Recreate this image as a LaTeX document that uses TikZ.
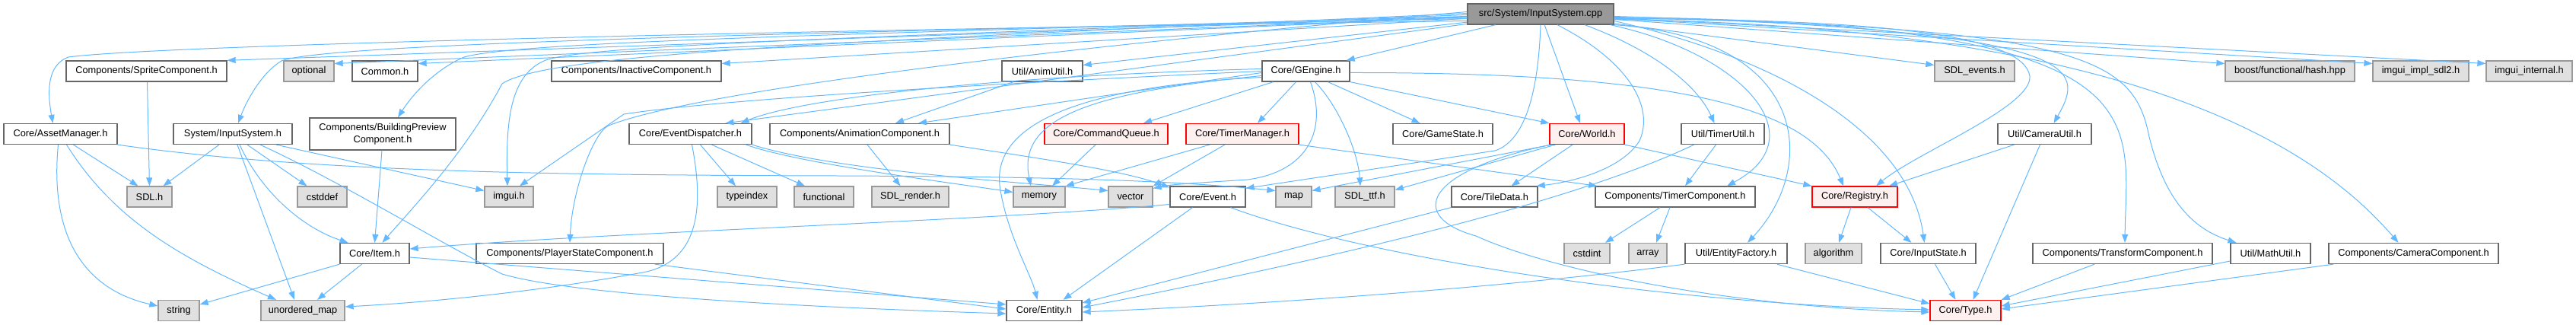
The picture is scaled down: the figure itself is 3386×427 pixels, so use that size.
\documentclass[tikz,border=0pt]{standalone}
\usepackage{fontspec}
\setmainfont{Liberation Sans}
\usetikzlibrary{arrows.meta}
\definecolor{edgec}{HTML}{63B8FF}
\definecolor{nborder}{HTML}{666666}
\definecolor{eborder}{HTML}{999999}
\definecolor{efill}{HTML}{E0E0E0}
\definecolor{rborder}{HTML}{FF0000}
\definecolor{rfill}{HTML}{FFF0F0}
\definecolor{sfill}{HTML}{999999}
\begin{document}
\begin{tikzpicture}[x=1pt,y=-1pt,
  font=\fontsize{12.8}{16}\selectfont,
  basebox/.style={line width=1.3pt, inner sep=0pt, minimum height=27pt, anchor=center, align=center},
  nbox/.style={basebox, draw=nborder, fill=white},
  ebox/.style={basebox, draw=eborder, fill=efill},
  rbox/.style={basebox, draw=rborder, fill=rfill},
  sbox/.style={basebox, draw=nborder, fill=sfill},
  dep/.style={draw=edgec, line width=1pt, -{Triangle[length=11pt,width=8pt]}}]
\useasboundingbox (0,0) rectangle (3386,427);
% row 0
\node[sbox, minimum width=192pt] (src) at (2025,18.5) {src/System/InputSystem.cpp};
% row 1
\node[nbox, minimum width=211pt] (sprite) at (192.5,93.5) {Components/SpriteComponent.h};
\node[ebox, minimum width=66pt] (optional) at (406,93.5) {optional};
\node[nbox, minimum width=86pt] (common) at (506,93.5) {Common.h};
\node[nbox, minimum width=223pt] (inactive) at (836.5,93.5) {Components/InactiveComponent.h};
\node[nbox, minimum width=106pt] (animutil) at (1370,93.5) {Util/AnimUtil.h};
\node[nbox, minimum width=115pt] (gengine) at (1716.5,93.5) {Core/GEngine.h};
\node[ebox, minimum width=105pt] (sdlevents) at (2595.5,93.5) {SDL\_events.h};
\node[ebox, minimum width=170pt] (boost) at (3010,93.5) {boost/functional/hash.hpp};
\node[ebox, minimum width=126pt] (imguiimpl) at (3182,93.5) {imgui\_impl\_sdl2.h};
\node[ebox, minimum width=113pt] (imguiint) at (3324.5,93.5) {imgui\_internal.h};
% row 2
\node[nbox, minimum width=149pt] (asset) at (79.5,176) {Core/AssetManager.h};
\node[nbox, minimum width=156pt] (sysinh) at (306,176) {System/InputSystem.h};
\node[nbox, minimum width=192pt, minimum height=42pt] (building) at (503,176) {Components/BuildingPreview\\Component.h};
\node[nbox, minimum width=161pt] (evdisp) at (907.5,176) {Core/EventDispatcher.h};
\node[nbox, minimum width=236pt] (animcomp) at (1130,176) {Components/AnimationComponent.h};
\node[rbox, minimum width=162pt] (cmdq) at (1454,176) {Core/CommandQueue.h};
\node[rbox, minimum width=148pt] (timerman) at (1633,176) {Core/TimerManager.h};
\node[nbox, minimum width=131pt] (gamestate) at (1896.5,176) {Core/GameState.h};
\node[rbox, minimum width=98pt] (world) at (2086,176) {Core/World.h};
\node[nbox, minimum width=109pt] (timerutil) at (2264.5,176) {Util/TimerUtil.h};
\node[nbox, minimum width=123pt] (camutil) at (2687.5,176) {Util/CameraUtil.h};
% row 3
\node[ebox, minimum width=59pt] (sdl) at (196.5,258.5) {SDL.h};
\node[ebox, minimum width=65pt] (cstddef) at (423.5,258.5) {cstddef};
\node[ebox, minimum width=64pt] (imgui) at (669,258.5) {imgui.h};
\node[ebox, minimum width=78pt] (typeindex) at (982,258.5) {typeindex};
\node[ebox, minimum width=78pt] (functional) at (1083,258.5) {functional};
\node[ebox, minimum width=101pt] (sdlrender) at (1196.5,258.5) {SDL\_render.h};
\node[ebox, minimum width=68pt] (memory) at (1366,258.5) {memory};
\node[ebox, minimum width=58pt] (vector) at (1486,258.5) {vector};
\node[nbox, minimum width=99pt] (event) at (1587.5,258.5) {Core/Event.h};
\node[ebox, minimum width=47pt] (map) at (1700.5,258.5) {map};
\node[ebox, minimum width=78pt] (sdlttf) at (1794,258.5) {SDL\_ttf.h};
\node[nbox, minimum width=113pt] (tiledata) at (1964.5,258.5) {Core/TileData.h};
\node[nbox, minimum width=210pt] (timercomp) at (2202,258.5) {Components/TimerComponent.h};
\node[rbox, minimum width=112pt] (registry) at (2438,258.5) {Core/Registry.h};
% row 4
\node[nbox, minimum width=91pt] (item) at (492.5,333) {Core/Item.h};
\node[nbox, minimum width=246pt] (playerstate) at (749,333) {Components/PlayerStateComponent.h};
\node[ebox, minimum width=60pt] (cstdint) at (2086,333) {cstdint};
\node[ebox, minimum width=50pt] (array) at (2166,333) {array};
\node[nbox, minimum width=134pt] (entfactory) at (2282,333) {Util/EntityFactory.h};
\node[ebox, minimum width=74pt] (algorithm) at (2410,333) {algorithm};
\node[nbox, minimum width=125pt] (inputstate) at (2534.5,333) {Core/InputState.h};
\node[nbox, minimum width=236pt] (transform) at (2790,333) {Components/TransformComponent.h};
\node[nbox, minimum width=105pt] (mathutil) at (2984.5,333) {Util/MathUtil.h};
\node[nbox, minimum width=223pt] (camcomp) at (3172.5,333) {Components/CameraComponent.h};
% row 5
\node[ebox, minimum width=54pt] (string) at (235,408) {string};
\node[ebox, minimum width=110pt] (umap) at (398,408) {unordered\_map};
\node[nbox, minimum width=99pt] (entity) at (1372.5,408) {Core/Entity.h};
\node[rbox, minimum width=93pt] (type) at (2583.5,408) {Core/Type.h};

% ---- edges from the source file
\draw[dep] ([yshift=-9pt]src.west) .. controls (1000,40) and (200,60) .. (90,75) .. controls (62,85) and (62,120) .. ([xshift=-10pt]asset.north);
\draw[dep] (src) -- (sprite.north east);
\draw[dep] (src) -- ([yshift=10pt]optional.east);
\draw[dep] (src) -- ([yshift=10pt]common.east);
\draw[dep] ([yshift=-6pt]src.west) .. controls (900,45) and (420,60) .. (370,80) .. controls (345,95) and (325,130) .. ([xshift=7pt]sysinh.north);
\draw[dep] ([yshift=-3pt]src.west) .. controls (1100,45) and (680,55) .. (610,75) .. controls (575,90) and (545,120) .. ([xshift=20pt]building.north);
\draw[dep] ([yshift=-1pt]src.west) .. controls (1100,50) and (760,60) .. (715,80) .. controls (670,100) and (665,160) .. ([xshift=-2pt]imgui.north);
\draw[dep] ([yshift=1pt]src.west) .. controls (1100,55) and (720,70) .. (660,110) .. controls (612,200) and (545,270) .. ([xshift=10pt]item.north);
\draw[dep] (src) -- ([yshift=10pt]inactive.east);
\draw[dep] (src) -- ([xshift=-35pt]evdisp.north east);
\draw[dep] ([yshift=3pt]src.west) .. controls (1300,70) and (900,125) .. (800,165) .. controls (780,174) and (752,250) .. (playerstate.north);
\draw[dep] (src) -- ([yshift=8pt]animutil.east);
\draw[dep] (src) -- ([xshift=-5pt]gengine.north east);
\draw[dep] (src) -- ([xshift=-9pt]world.north);
\draw[dep] ([xshift=22pt]src.south) .. controls (2140,80) and (2175,140) .. (2155,185) .. controls (2130,225) and (2060,240) .. ([xshift=-2pt]tiledata.north east);
\draw[dep] (src.south) .. controls (2022,120) and (2005,185) .. (1965,198) -- ([yshift=-3pt]event.north east);
\draw[dep] ([xshift=58pt]src.south) .. controls (2170,65) and (2230,110) .. ([xshift=-11pt]timerutil.north);
\draw[dep] ([xshift=-5pt]src.south east) .. controls (2290,70) and (2390,180) .. ([xshift=68pt]timercomp.north);
\draw[dep] (src.south east) .. controls (2380,50) and (2390,220) .. ([xshift=15pt]entfactory.north);
\draw[dep] (src) -- ([yshift=8pt]sdlevents.west);
\draw[dep] ([yshift=-6pt]src.east) .. controls (2500,25) and (2660,50) .. (2668,100) .. controls (2672,140) and (2520,200) .. ([xshift=28pt]registry.north);
\draw[dep] ([yshift=-9pt]src.east) .. controls (2350,80) and (2510,180) .. ([xshift=-5pt]inputstate.north);
\draw[dep] ([yshift=-3pt]src.east) .. controls (2750,40) and (2740,90) .. ([xshift=12pt]camutil.north);
\draw[dep] ([yshift=-4pt]src.east) .. controls (2850,30) and (2795,150) .. ([xshift=3pt]transform.north);
\draw[dep] ([yshift=-5pt]src.east) .. controls (2750,35) and (2805,80) .. (2825,180) .. controls (2845,260) and (2880,300) .. ([xshift=8pt]mathutil.north west);
\draw[dep] ([yshift=-7pt]src.east) .. controls (2820,35) and (3050,200) .. ([xshift=-20pt]camcomp.north);
\draw[dep] (src) -- ([yshift=10pt]boost.west);
\draw[dep] (src) -- ([yshift=10pt]imguiimpl.west);
\draw[dep] (src) -- ([yshift=10pt]imguiint.west);

% ---- AssetManager
\draw[dep] ([xshift=17pt]asset.south) -- ([xshift=-15pt]sdl.north);
\draw[dep] ([xshift=-3pt]asset.south) .. controls (65,310) and (110,380) .. ([yshift=6pt]string.west);
\draw[dep] ([xshift=8pt]asset.south) .. controls (150,290) and (240,340) .. ([xshift=-35pt]umap.north);
\draw[dep] (asset.south east) .. controls (400,225) and (700,230) .. (1100,231) .. controls (1400,232) and (1550,238) .. ([yshift=8pt]map.west);
% ---- SpriteComponent
\draw[dep] ([xshift=1pt]sprite.south) -- (sdl.north);
% ---- System/InputSystem.h
\draw[dep] ([xshift=-18pt]sysinh.south) -- ([xshift=18pt]sdl.north);
\draw[dep] ([xshift=19pt]sysinh.south) -- ([xshift=-20pt]cstddef.north);
\draw[dep] ([xshift=6pt]sysinh.south) -- ([xshift=-11pt]umap.north);
\draw[dep] ([xshift=9pt]sysinh.south) .. controls (345,255) and (400,300) .. ([xshift=-35pt]item.north);
\draw[dep] ([xshift=57pt]sysinh.south) -- ([yshift=8pt]imgui.west);
\draw[dep] ([xshift=36pt]sysinh.south) .. controls (450,240) and (580,320) .. (660,360) .. controls (760,390) and (1100,405) .. ([yshift=-4pt]entity.west);
% ---- BuildingPreview
\draw[dep] ([xshift=-1pt]building.south) -- (item.north);
% ---- Item
\draw[dep] (item.south west) -- ([yshift=8pt]string.east);
\draw[dep] ([xshift=-17pt]item.south) -- ([xshift=19pt]umap.north);
\draw[dep] ([yshift=-5pt]item.east) -- ([yshift=8pt]entity.west);
% ---- PlayerState
\draw[dep] ([xshift=-12pt]playerstate.south east) -- ([yshift=2pt]entity.west);
% ---- EventDispatcher
\draw[dep] ([xshift=13pt]evdisp.south) -- ([xshift=-15pt]typeindex.north);
\draw[dep] ([xshift=28pt]evdisp.south) -- ([xshift=-25pt]functional.north);
\draw[dep] ([xshift=2pt]evdisp.south) .. controls (925,270) and (920,340) .. (850,357) .. controls (700,385) and (550,398) .. ([yshift=5pt]umap.east);
\draw[dep] ([xshift=-8pt]evdisp.south east) .. controls (1050,215) and (1250,240) .. ([yshift=6pt]memory.west);
\draw[dep] (evdisp.south east) .. controls (1100,225) and (1350,240) .. ([yshift=8pt]vector.west);
% ---- AnimUtil / AnimationComponent
\draw[dep] ([xshift=-38pt]animutil.south) -- ([xshift=47pt]animcomp.north);
\draw[dep] ([xshift=10pt]animcomp.south) -- ([xshift=-13pt]sdlrender.north);
\draw[dep] (animcomp.south east) .. controls (1380,210) and (1480,225) .. ([yshift=-2pt]event.north west);
% ---- CommandQueue / TimerManager
\draw[dep] ([xshift=-14pt]cmdq.south) -- ([xshift=17pt]memory.north);
\draw[dep] ([xshift=-43pt]timerman.south) -- (memory.north east);
\draw[dep] ([xshift=-23pt]timerman.south) -- (vector.north east);
\draw[dep] (timerman.south east) -- ([xshift=3pt]timercomp.north west);
% ---- GEngine
\draw[dep] ([yshift=3pt]gengine.west) .. controls (1300,100) and (1050,130) .. ([xshift=-15pt]evdisp.north east);
\draw[dep] (gengine.west) .. controls (1300,110) and (950,130) .. (820,150) -- ([xshift=14pt]imgui.north);
\draw[dep] ([yshift=-2pt]gengine.west) -- ([xshift=77pt]animcomp.north);
\draw[dep] ([yshift=-6pt]gengine.west) .. controls (1450,120) and (1335,150) .. ([xshift=-11pt]memory.north);
\draw[dep] ([yshift=-8pt]gengine.west) .. controls (1400,115) and (1300,170) .. (1315,250) .. controls (1325,310) and (1355,360) .. ([xshift=-9pt]entity.north);
\draw[dep] ([xshift=-43pt]gengine.south) -- ([xshift=49pt]cmdq.north);
\draw[dep] ([xshift=-13pt]gengine.south) -- ([xshift=20pt]timerman.north);
\draw[dep] ([xshift=6pt]gengine.south) .. controls (1745,170) and (1720,225) .. (1640,236) .. controls (1580,240) and (1540,242) .. ([yshift=11pt]vector.east);
\draw[dep] ([xshift=12pt]gengine.south) .. controls (1760,140) and (1785,200) .. ([xshift=-6pt]sdlttf.north);
\draw[dep] ([xshift=29pt]gengine.south) -- ([xshift=-30pt]gamestate.north);
\draw[dep] (gengine.south east) -- (world.north west);
\draw[dep] ([yshift=-2pt]gengine.east) .. controls (2200,95) and (2380,140) .. ([xshift=-15pt]registry.north);
% ---- World
\draw[dep] ([xshift=-19pt]world.south) -- ([xshift=22pt]tiledata.north);
\draw[dep] (world.south east) -- (registry.north west);
\draw[dep] ([xshift=3pt]world.south west) -- ([yshift=8pt]map.east);
\draw[dep] ([xshift=8pt]world.south west) -- ([yshift=9pt]sdlttf.east);
\draw[dep] ([xshift=2pt]world.south west) .. controls (1870,225) and (1850,285) .. (1940,310) .. controls (2050,360) and (2300,405) .. ([yshift=-2pt]type.west);
% ---- Event
\draw[dep] ([yshift=-10pt]event.west) .. controls (1300,290) and (800,305) .. ([yshift=6pt]item.east);
\draw[dep] ([xshift=-20pt]event.south) -- ([xshift=25pt]entity.north);
\draw[dep] ([xshift=30pt]event.south) .. controls (1800,340) and (2200,400) .. ([yshift=1pt]type.west);
% ---- TileData / TimerUtil / TimerComponent
\draw[dep] (tiledata.south west) -- ([yshift=10pt]entity.east);
\draw[dep] ([xshift=-38pt]timerutil.south) .. controls (2080,260) and (1800,330) .. ([yshift=4pt]entity.east);
\draw[dep] ([xshift=-9pt]timerutil.south) -- ([xshift=13pt]timercomp.north);
\draw[dep] ([xshift=-20pt]timercomp.south) -- ([xshift=24pt]cstdint.north);
\draw[dep] ([xshift=-7pt]timercomp.south) -- ([xshift=11pt]array.north);
% ---- EntityFactory
\draw[dep] (entfactory.south west) .. controls (2000,375) and (1700,398) .. ([yshift=-2pt]entity.east);
\draw[dep] ([xshift=-14pt]entfactory.south east) -- ([yshift=9pt]type.west);
% ---- Registry / CameraUtil / InputState
\draw[dep] ([xshift=-5pt]registry.south) -- ([xshift=7pt]algorithm.north);
\draw[dep] ([xshift=17pt]registry.south) -- ([xshift=-22pt]inputstate.north);
\draw[dep] ([xshift=-40pt]camutil.south) -- ([xshift=45pt]registry.north);
\draw[dep] ([xshift=-6pt]camutil.south) -- ([xshift=10pt]type.north);
\draw[dep] ([xshift=9pt]inputstate.south) -- ([xshift=-13pt]type.north);
% ---- Components to Type
\draw[dep] ([xshift=-37pt]transform.south) -- (type.north east);
\draw[dep] ([yshift=-10pt]mathutil.west) -- ([yshift=6pt]type.east);
\draw[dep] ([xshift=7pt]camcomp.south west) -- ([yshift=2pt]type.east);
\end{tikzpicture}
\end{document}
